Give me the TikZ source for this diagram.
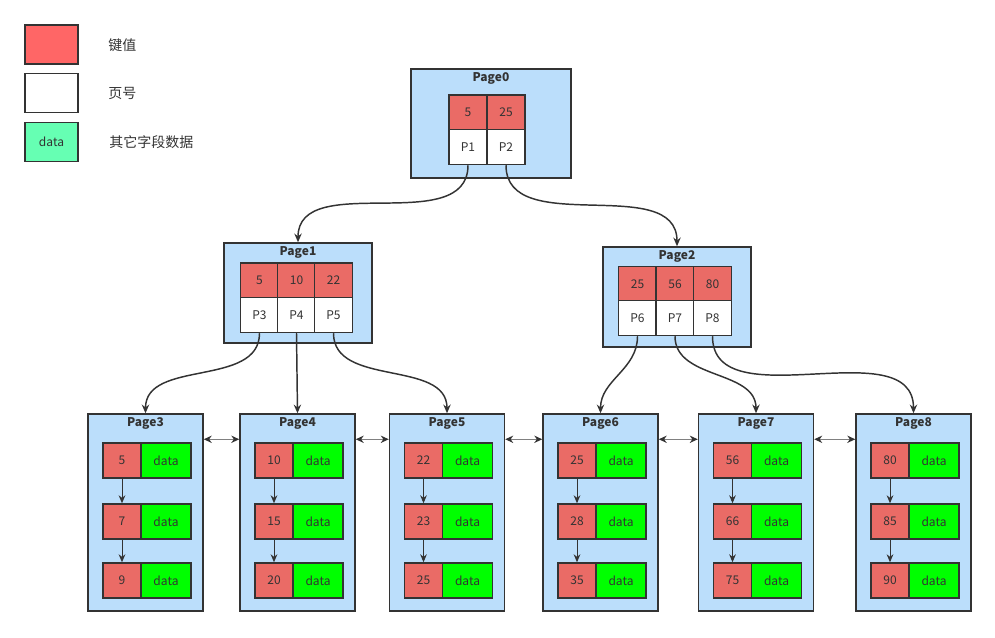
\documentclass[tikz,border=0pt]{standalone}
\usepackage{fontspec}
\usepackage{tikz}
\usetikzlibrary{arrows.meta}
\newfontfamily\cjk{Noto Sans CJK SC}
\definecolor{linegray}{HTML}{333333}
\definecolor{pagebg}{HTML}{BBDEFB}
\definecolor{keyred}{HTML}{EA6B66}
\definecolor{legendred}{HTML}{FF6666}
\definecolor{datagreen}{HTML}{00FF00}
\definecolor{legendgreen}{HTML}{66FFB3}
\tikzset{
  page/.style={draw=linegray, fill=pagebg, line width=1.1pt},
  title/.style={anchor=north, inner sep=3.2pt, font=\cjk\bfseries\fontsize{9}{10}\selectfont, text=linegray},
  cell/.style={draw=linegray, line width=1.1pt, minimum width=28.5pt, minimum height=26.25pt,
    inner sep=0pt, font=\cjk\fontsize{9}{10}\selectfont, text=linegray},
  keycell/.style={cell, fill=keyred},
  ptrcell/.style={cell, fill=white},
  datacell/.style={cell, fill=datagreen, minimum width=37.5pt},
  legendbox/.style={draw=linegray, line width=1.1pt, minimum width=39.75pt, minimum height=29.25pt,
    inner sep=0pt, font=\cjk\fontsize{9}{10}\selectfont, text=linegray},
  legendtext/.style={anchor=west, inner sep=0pt, font=\cjk\fontsize{10.5}{12}\selectfont, text=linegray},
  tree/.style={-{Stealth[length=6.5pt,width=5.5pt]}, draw=linegray, line width=1.1pt},
  chain/.style={-{Stealth[length=6pt,width=5pt]}, draw=linegray, line width=0.7pt},
  sibling/.style={{Stealth[length=6pt,width=5.5pt,color=linegray]}-{Stealth[length=6pt,width=5.5pt,color=linegray]},
    draw=gray, line width=0.9pt}
}

\begin{document}
\begin{tikzpicture}[x=0.75pt,y=-0.75pt]
  \useasboundingbox (0,0) rectangle (995,637);

  % legend
  \node[legendbox, fill=legendred] (lgkey) at (51.5,44.5) {};
  \node[legendbox, fill=white] (lgptr) at (51.5,93) {};
  \node[legendbox, fill=legendgreen] (lgdata) at (51.5,142) {data};
  \node[legendtext] at (108,45) {键值};
  \node[legendtext] at (108,93) {页号};
  \node[legendtext] at (109,142) {其它字段数据};

  % root page
  \node[page, minimum width=120pt, minimum height=81.75pt] (page0) at (491,123.5) {};
  \node[title] at (page0.north) {Page0};
  \node[keycell] (k01) at (468,112.5) {5};
  \node[keycell] (k02) at (506,112.5) {25};
  \node[ptrcell] (p1) at (468,147) {P1};
  \node[ptrcell] (p2) at (506,147) {P2};

  % inner pages
  \node[page, minimum width=111pt, minimum height=75pt] (page1) at (298,293) {};
  \node[title] at (page1.north) {Page1};
  \node[keycell] (k11) at (259.5,280.5) {5};
  \node[keycell] (k12) at (296.5,280.5) {10};
  \node[keycell] (k13) at (333.5,280.5) {22};
  \node[ptrcell] (p3) at (259.5,315) {P3};
  \node[ptrcell] (p4) at (296.5,315) {P4};
  \node[ptrcell] (p5) at (333.5,315) {P5};

  \node[page, minimum width=111pt, minimum height=75pt] (page2) at (677,297) {};
  \node[title] at (page2.north) {Page2};
  \node[keycell] (k21) at (637.5,284) {25};
  \node[keycell] (k22) at (675,284) {56};
  \node[keycell] (k23) at (712.5,284) {80};
  \node[ptrcell] (p6) at (637.5,318) {P6};
  \node[ptrcell] (p7) at (675,318) {P7};
  \node[ptrcell] (p8) at (712.5,318) {P8};

  % leaf pages
  \foreach \n/\x/\a/\b/\c in {3/145.5/5/7/9, 4/297.5/10/15/20, 5/447/22/23/25,
                              6/600.5/25/28/35, 7/756/56/66/75, 8/913.5/80/85/90} {
    \node[page, minimum width=86.25pt, minimum height=147.75pt] (page\n) at (\x,512.5) {};
    \node[title] at (page\n.north) {Page\n};
    \node[keycell] (leaf\n a) at (\x-23.5,460.5) {\a};
    \node[datacell] (data\n a) at (\x+20.5,460.5) {data};
    \node[keycell] (leaf\n b) at (\x-23.5,521.5) {\b};
    \node[datacell] (data\n b) at (\x+20.5,521.5) {data};
    \node[keycell] (leaf\n c) at (\x-23.5,580.5) {\c};
    \node[datacell] (data\n c) at (\x+20.5,580.5) {data};
    \draw[chain] (leaf\n a) -- (leaf\n b);
    \draw[chain] (leaf\n b) -- (leaf\n c);
  }

  % tree links
  \draw[tree] (p1.south) to[out=-90,in=90] (page1.north);
  \draw[tree] (p2.south) to[out=-90,in=90] (page2.north);
  \draw[tree] (p3.south) to[out=-90,in=90] (page3.north);
  \draw[tree] (p4.south) -- (page4.north);
  \draw[tree] (p5.south) to[out=-90,in=90] (page5.north);
  \draw[tree] (p6.south) to[out=-90,in=90] (page6.north);
  \draw[tree] (p7.south) to[out=-90,in=90] (page7.north);
  \draw[tree] (p8.south) to[out=-90,in=90] (page8.north);

  % sibling links
  \foreach \l/\r in {3/4, 4/5, 5/6, 6/7, 7/8}
    \draw[sibling] ([yshift=-19.5pt]page\l.north east) -- ([yshift=-19.5pt]page\r.north west);

\end{tikzpicture}
\end{document}
